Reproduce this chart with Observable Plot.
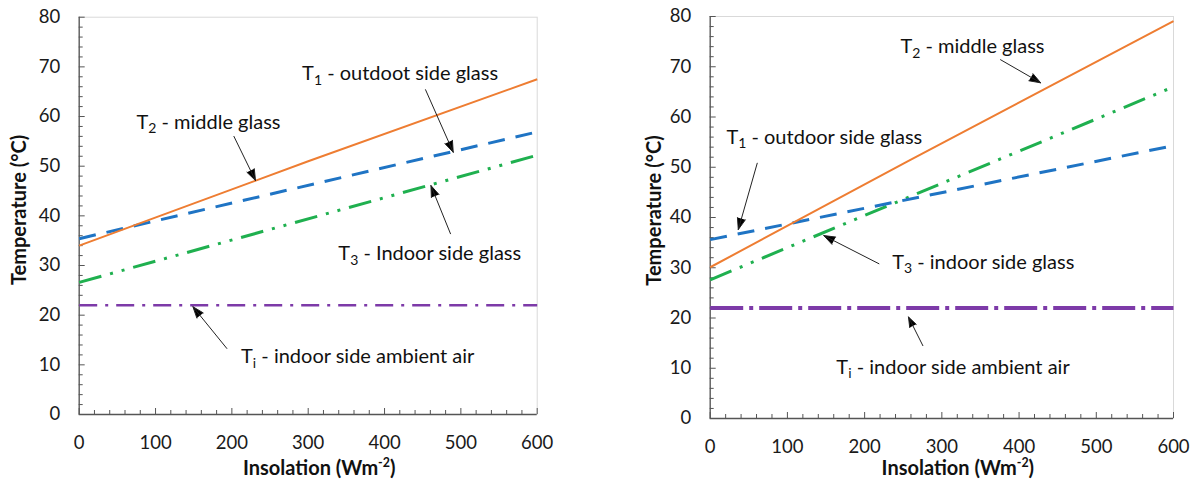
<!DOCTYPE html>
<html><head><meta charset="utf-8">
<script src="https://cdn.jsdelivr.net/npm/d3@7"></script>
<script src="https://cdn.jsdelivr.net/npm/@observablehq/plot@0.6"></script>
<style>
html,body{margin:0;padding:0;background:#fff;}
#wrap{position:relative;width:1196px;height:482px;overflow:hidden;background:#fff;}
#left,#right{position:absolute;top:0;}
#left{left:0;} #right{left:600px;}
</style></head><body>
<div id="wrap"><div id="left"></div><div id="right"></div></div>
<script>
// ---------- data ----------
const xTicks = [0, 100, 200, 300, 400, 500, 600];
const yTicks = [0, 10, 20, 30, 40, 50, 60, 70, 80];
const xTitle = "Insolation (Wm^{-2})";
const yTitle = "Temperature (°C)";

// left panel
const leftX = [0, 600];
const leftT1 = [35.4, 56.9];
const leftT3 = [26.6, 52.2];
const leftTi = [22, 22];
const leftT2X = [0, 300, 600];
const leftT2 = [34.0, 51.0, 67.5];

const leftLabels = ["T_{1} - outdoot side glass", "T_{2} - middle glass", "T_{3} - Indoor side glass", "T_{i} - indoor side ambient air"];
const leftLabelX = [292, 75, 339.5, 212];
const leftLabelY = [68.6, 58.8, 32.3, 11.6];
const leftArrowX1 = [453.7, 202.7, 486.4, 193.4];
const leftArrowY1 = [65.4, 56.0, 36.4, 13.3];
const leftArrowX2 = [490, 231, 460.8, 149];
const leftArrowY2 = [52.8, 47.1, 46.1, 21.7];

// right panel
const rightX = [0, 600];
const rightT1 = [35.6, 54.3];
const rightT3 = [27.6, 66.0];
const rightTi = [22, 22];
const rightT2X = [0, 255, 600];
const rightT2 = [30.1, 51.1, 79.1];

const rightLabels = ["T_{2} - middle glass", "T_{1} - outdoor side glass", "T_{3} - indoor side glass", "T_{i} - indoor side ambient air"];
const rightLabelX = [246.4, 21, 235.7, 163.4];
const rightLabelY = [74.0, 56.0, 31.1, 10.2];
const rightArrowX1 = [376, 60.9, 218.5, 275.4];
const rightArrowY1 = [71.4, 50.8, 30.8, 14.5];
const rightArrowX2 = [428, 36.4, 147.1, 256.8];
const rightArrowY2 = [66.8, 37.6, 36.4, 20.2];

// ---------- styles ----------
const axisColor = "#555";
const FONT = "Lato, 'Open Sans', sans-serif";

function rows(xs, ys) { return xs.map((x, i) => ({x, y: ys[i]})); }

function richify(svg) {
  svg.querySelectorAll("text").forEach(t => {
    const s = t.textContent;
    if (!/[_^]\{/.test(s)) return;
    t.textContent = "";
    const re = /([_^])\{([^}]*)\}/g;
    let last = 0, m, reset = 0;
    const ns = "http://www.w3.org/2000/svg";
    const add = (txt, opts) => {
      const ts = document.createElementNS(ns, "tspan");
      ts.textContent = txt;
      for (const k in opts) ts.setAttribute(k, opts[k]);
      t.appendChild(ts);
    };
    while ((m = re.exec(s))) {
      if (m.index > last) { add(s.slice(last, m.index), reset ? {dy: reset + "em"} : {}); reset = 0; }
      if (m[1] === "_") { add(m[2], {"font-size": "70%", dy: "0.32em"}); reset = -0.224; }
      else { add(m[2], {"font-size": "62%", dy: "-0.6em"}); reset = 0.372; }
      last = m.index + m[0].length;
    }
    if (last < s.length) add(s.slice(last), reset ? {dy: reset + "em"} : {});
  });
}

function panel(cfg) {
  const {width, height, margin} = cfg;
  const plotW = width - margin.left - margin.right;
  const plotH = height - margin.top - margin.bottom;
  const xMinor = d3.range(0, 601, 20).filter(v => !xTicks.includes(v));
  const yMinor = d3.range(0, 81, 2).filter(v => !yTicks.includes(v));
  const marks = [
    Plot.frame({stroke: "#d9d9d9", strokeWidth: 1}),
    Plot.tickX(xMinor, {x: d => d, insetTop: plotH - 4, stroke: axisColor}),
    Plot.tickX(xTicks, {x: d => d, insetTop: plotH - 6, stroke: axisColor}),
    Plot.tickY(yMinor, {y: d => d, insetRight: plotW - 4, stroke: axisColor}),
    Plot.tickY(yTicks, {y: d => d, insetRight: plotW - 6, stroke: axisColor}),
    Plot.ruleX([0], {stroke: axisColor, strokeWidth: 1.3}),
    Plot.ruleY([0], {stroke: axisColor, strokeWidth: 1.3})
  ];
  for (const s of cfg.series) {
    marks.push(Plot.line(rows(s.x, s.y), {
      x: "x", y: "y", stroke: s.style.color, strokeWidth: s.style.width,
      strokeDasharray: s.style.dash, strokeLinecap: "butt", strokeLinejoin: "round"
    }));
  }
  const arrows = cfg.arrows.x1.map((v, i) => ({x1: v, y1: cfg.arrows.y1[i], x2: cfg.arrows.x2[i], y2: cfg.arrows.y2[i]}));
  marks.push(Plot.arrow(arrows, {x1: "x1", y1: "y1", x2: "x2", y2: "y2", stroke: "#222", fill: "#000", strokeWidth: 1, headLength: 18, headAngle: 40}));
  const labels = cfg.labels.text.map((t, i) => ({t, x: cfg.labels.x[i], y: cfg.labels.y[i]}));
  marks.push(Plot.text(labels, {x: "x", y: "y", text: "t", textAnchor: "start", lineAnchor: "middle", fontSize: 20, fill: "#111"}));
  marks.push(Plot.axisX(xTicks, {anchor: "bottom", tickSize: 0, tickPadding: 21, label: null, fontSize: 18.5, fill: "#1a1a1a"}));
  marks.push(Plot.axisY(yTicks, {anchor: "left", tickSize: 0, tickPadding: 19, label: null, fontSize: 18.5, fill: "#1a1a1a"}));
  marks.push(Plot.text([xTitle], {text: d => d, frameAnchor: "bottom", textAnchor: "middle", lineAnchor: "middle", dx: cfg.xTitleDx, dy: cfg.xTitleDy, fontWeight: "bold", fontSize: 20, fill: "#111"}));
  marks.push(Plot.text([yTitle], {text: d => d, frameAnchor: "left", textAnchor: "middle", lineAnchor: "middle", rotate: -90, dx: cfg.yTitleDx, dy: cfg.yTitleDy, fontWeight: "bold", fontSize: 20, fill: "#111"}));
  const svg = Plot.plot({
    width, height,
    marginLeft: margin.left, marginRight: margin.right, marginTop: margin.top, marginBottom: margin.bottom,
    x: {domain: [0, 600], label: null},
    y: {domain: [0, 80], label: null},
    style: {fontFamily: FONT, fontSize: "18px", color: "#111", background: "transparent", overflow: "visible"},
    marks
  });
  richify(svg);
  return svg;
}

const styles = {
  T1: {color: "#1f74c4", width: 3, dash: "17 11"},
  T2: {color: "#ee7d32", width: 2, dash: null},
  T3: {color: "#1fb04f", width: 3, dash: "23 9 3 9 3 9"},
  TiL: {color: "#7d3aa8", width: 2.5, dash: "18 8 3 8"},
  TiR: {color: "#7d3aa8", width: 4, dash: "33 6 4 6"}
};

document.getElementById("left").appendChild(panel({
  width: 600, height: 482,
  margin: {left: 78.7, right: 63.3, top: 16.7, bottom: 68},
  series: [
    {x: leftX, y: leftTi, style: styles.TiL},
    {x: leftX, y: leftT3, style: styles.T3},
    {x: leftX, y: leftT1, style: styles.T1},
    {x: leftT2X, y: leftT2, style: styles.T2}
  ],
  labels: {text: leftLabels, x: leftLabelX, y: leftLabelY},
  arrows: {x1: leftArrowX1, y1: leftArrowY1, x2: leftArrowX2, y2: leftArrowY2},
  xTitleDx: 11, xTitleDy: 54, yTitleDx: -60, yTitleDy: -6
}));

document.getElementById("right").appendChild(panel({
  width: 596, height: 482,
  margin: {left: 109.7, right: 23, top: 16, bottom: 64},
  series: [
    {x: rightX, y: rightTi, style: styles.TiR},
    {x: rightX, y: rightT3, style: styles.T3},
    {x: rightX, y: rightT1, style: styles.T1},
    {x: rightT2X, y: rightT2, style: styles.T2}
  ],
  labels: {text: rightLabels, x: rightLabelX, y: rightLabelY},
  arrows: {x1: rightArrowX1, y1: rightArrowY1, x2: rightArrowX2, y2: rightArrowY2},
  xTitleDx: 16, xTitleDy: 50, yTitleDx: -56, yTitleDy: -7
}));
</script>
</body></html>
